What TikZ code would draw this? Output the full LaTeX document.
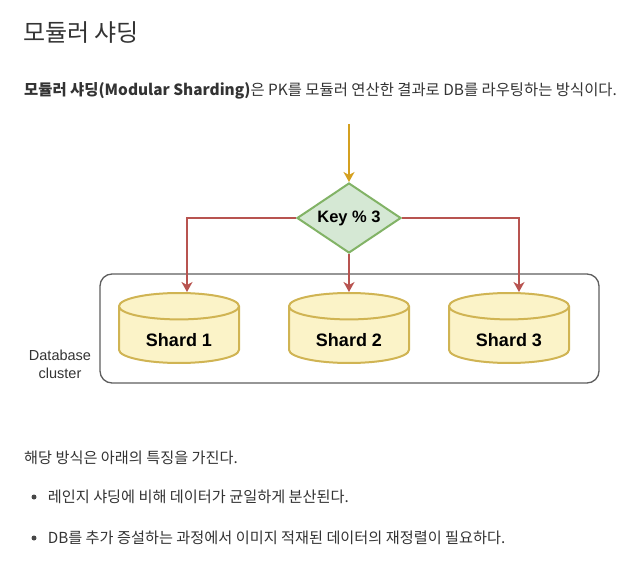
\documentclass[tikz,border=0pt]{standalone}
\usepackage{fontspec}
\setmainfont{Noto Sans CJK KR}
\newfontfamily\dio{Liberation Sans}
\usepackage{tikz}
\usetikzlibrary{arrows.meta,positioning,shapes.geometric,calc}
\definecolor{txt}{HTML}{333333}
\definecolor{gfill}{HTML}{D5E8D4}
\definecolor{gline}{HTML}{82B366}
\definecolor{yfill}{HTML}{FBF3C8}
\definecolor{yline}{HTML}{D0B453}
\definecolor{rline}{HTML}{B85450}
\definecolor{oline}{HTML}{D4A020}
\definecolor{cline}{HTML}{5E5E5E}

\begin{document}
\begin{tikzpicture}[
  x=1pt, y=-1pt,
  line/.style={anchor=west, inner sep=0pt, text=txt},
  keybox/.style={diamond, draw=gline, fill=gfill, line width=2pt, aspect=1.5,
                 inner sep=0pt, minimum width=104pt, minimum height=70pt,
                 font=\dio\fontsize{16.5}{19}\selectfont\bfseries},
  shard/.style={cylinder, shape border rotate=90, aspect=0.4, draw=yline, fill=yfill,
                line width=2pt, minimum width=120pt, minimum height=70pt, inner sep=0pt,
                text height=23pt, text depth=0pt,
                anchor=shape center, font=\dio\fontsize{18}{21}\selectfont\bfseries},
  cluster/.style={draw=cline, line width=1.3pt, rounded corners=12pt,
                  minimum width=499pt, minimum height=109pt},
  dot/.style={circle, fill=txt!90, inner sep=0pt, minimum size=5pt},
  >={Stealth[length=10pt, width=11pt, inset=3pt]},
]
\useasboundingbox (0,0) rectangle (632,564);
% heading and intro
\node[line, font=\fontsize{24}{28}\selectfont] (title) at (23,33) {모듈러 샤딩};
\node[line, font=\fontsize{15.4}{18}\selectfont] (intro) at (24,91)
  {\textbf{모듈러 샤딩(Modular Sharding)}은 PK를 모듈러 연산한 결과로 DB를 라우팅하는 방식이다.};

% diagram
\coordinate (in) at (349,124);
\node[keybox] (key) at (349,218) {Key \% 3};
\node[cluster] (db) at (349.5,328.5) {};
\node[shard] (s1) at (179,328) {Shard 1};
\node[shard] (s2) at (349,328) {Shard 2};
\node[shard] (s3) at (509,328) {Shard 3};
\node[align=center, inner sep=0pt, text=txt, font=\dio\fontsize{14.5}{18}\selectfont]
  (dblabel) at (60,364) {Database\\cluster};

\draw[->, draw=oline, line width=1.5pt] (in) -- (key.north);
\draw[->, draw=rline, line width=1.5pt] (key.west) -| ([xshift=8pt]s1.top);
\draw[->, draw=rline, line width=1.5pt] (key.south) -- (s2.top);
\draw[->, draw=rline, line width=1.5pt] (key.east) -| ([xshift=10pt]s3.top);

% features
\node[line, font=\fontsize{15.2}{18}\selectfont] (feat) at (24,458) {해당 방식은 아래의 특징을 가진다.};
\node[dot] (b1) at (34,497) {};
\node[line, font=\fontsize{15.2}{18}\selectfont, right=11pt of b1] (f1) {레인지 샤딩에 비해 데이터가 균일하게 분산된다.};
\node[dot] (b2) at (34,538) {};
\node[line, font=\fontsize{15.2}{18}\selectfont, right=11pt of b2] (f2) {DB를 추가 증설하는 과정에서 이미지 적재된 데이터의 재정렬이 필요하다.};
\end{tikzpicture}
\end{document}
